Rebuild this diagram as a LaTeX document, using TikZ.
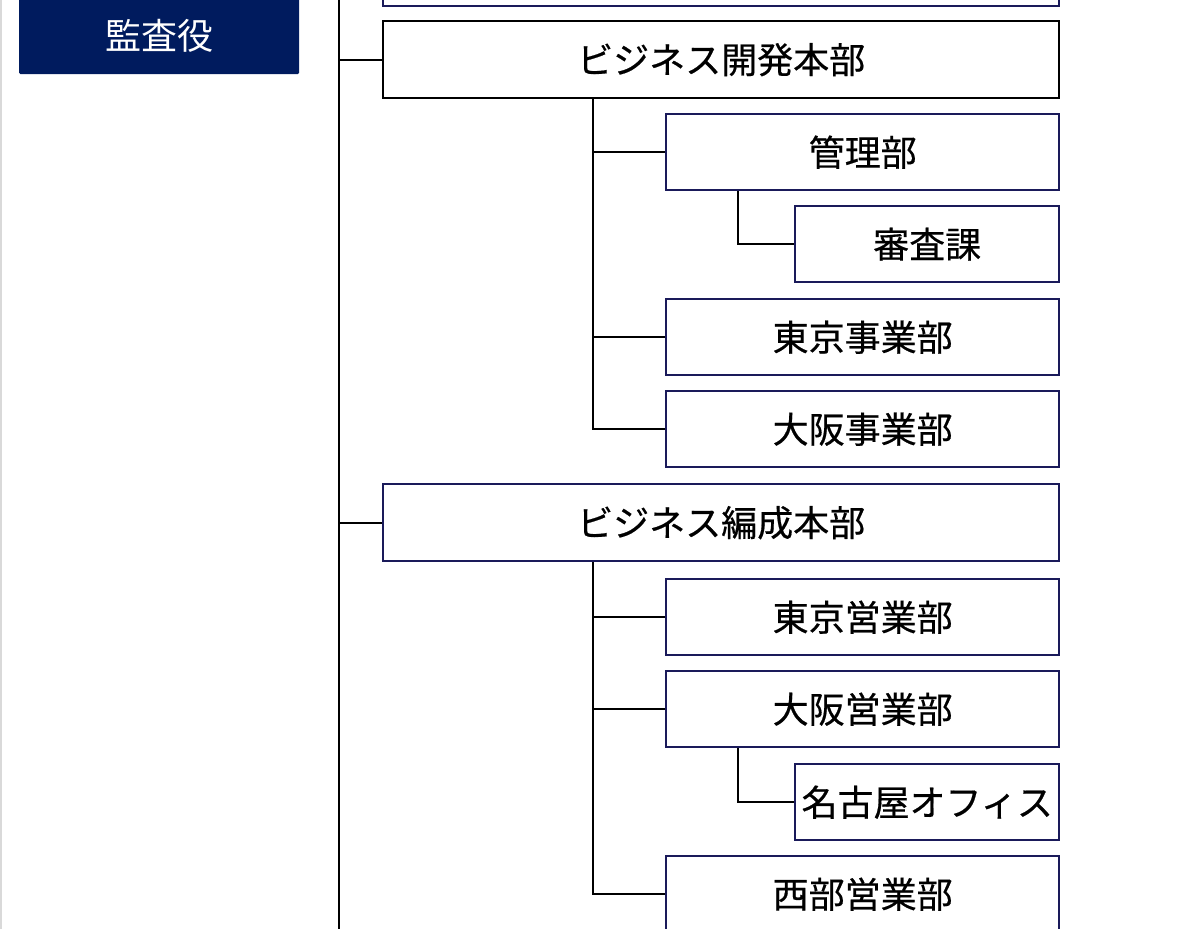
\documentclass[tikz,border=0pt]{standalone}
\usepackage{fontspec}
\setmainfont{Noto Sans CJK JP}
\newfontfamily\jpfont{Noto Sans CJK JP}[FakeBold=0.5]
\definecolor{navy}{RGB}{0,27,94}
\definecolor{frame}{RGB}{26,26,90}
\tikzset{unit/.style={draw=frame,line width=2.4pt,fill=white,anchor=north west,inner sep=0pt,font=\jpfont\fontsize{36}{40}\selectfont}}
\tikzset{honbu/.style={unit,minimum width=676pt,minimum height=77pt}}
\tikzset{bu/.style={unit,minimum width=393pt,minimum height=76pt}}
\tikzset{ka/.style={unit,minimum width=264pt,minimum height=76pt}}
\tikzset{link/.style={line width=2.4pt,black}}

\begin{document}
\begin{tikzpicture}[x=1pt,y=-1pt]
    \useasboundingbox (0,0) rectangle (1200,929);
    \clip (0,0) rectangle (1200,929);
    \draw[black!15,line width=1.5pt] (1,0) -- (1,929);
    \node[unit,draw=none,fill=navy,text=white,rounded corners=1.5pt,minimum width=280pt,minimum height=76pt,font=\fontsize{36}{40}\selectfont] (audit) at (18,-3) {監査役};
    \coordinate (trunktop) at (339,0);
    \coordinate (trunkend) at (339,929);
    \node[honbu] (upper) at (382,-72) {};
    \node[honbu,draw=black] (dev) at (382,20) {ビジネス開発本部};
    \node[bu] (kanri) at (665,113) {管理部};
    \node[ka] (shinsa) at (794,205) {審査課};
    \node[bu] (tokyoji) at (665,298) {東京事業部};
    \node[bu] (osakaji) at (665,390) {大阪事業部};
    \node[honbu] (hensei) at (382,483) {ビジネス編成本部};
    \node[bu] (tokyoei) at (665,578) {東京営業部};
    \node[bu] (osakaei) at (665,670) {大阪営業部};
    \node[ka] (nagoya) at (794,763) {名古屋オフィス};
    \node[bu] (seibu) at (665,855) {西部営業部};
    \coordinate (devfoot) at ([xshift=211pt]dev.south west);
    \coordinate (henseifoot) at ([xshift=211pt]hensei.south west);
    \coordinate (kanrifoot) at ([xshift=73pt]kanri.south west);
    \coordinate (osakaeifoot) at ([xshift=73pt]osakaei.south west);
    \draw[link] (trunktop) -- (trunkend);
    \draw[link] (trunktop |- dev.west) -- (dev.west);
    \draw[link] (trunktop |- hensei.west) -- (hensei.west);
    \draw[link] (devfoot) |- (kanri.west);
    \draw[link] (devfoot) |- (tokyoji.west);
    \draw[link] (devfoot) |- (osakaji.west);
    \draw[link] (kanrifoot) |- (shinsa.west);
    \draw[link] (henseifoot) |- (tokyoei.west);
    \draw[link] (henseifoot) |- (osakaei.west);
    \draw[link] (henseifoot) |- (seibu.west);
    \draw[link] (osakaeifoot) |- (nagoya.west);
\end{tikzpicture}
\end{document}
